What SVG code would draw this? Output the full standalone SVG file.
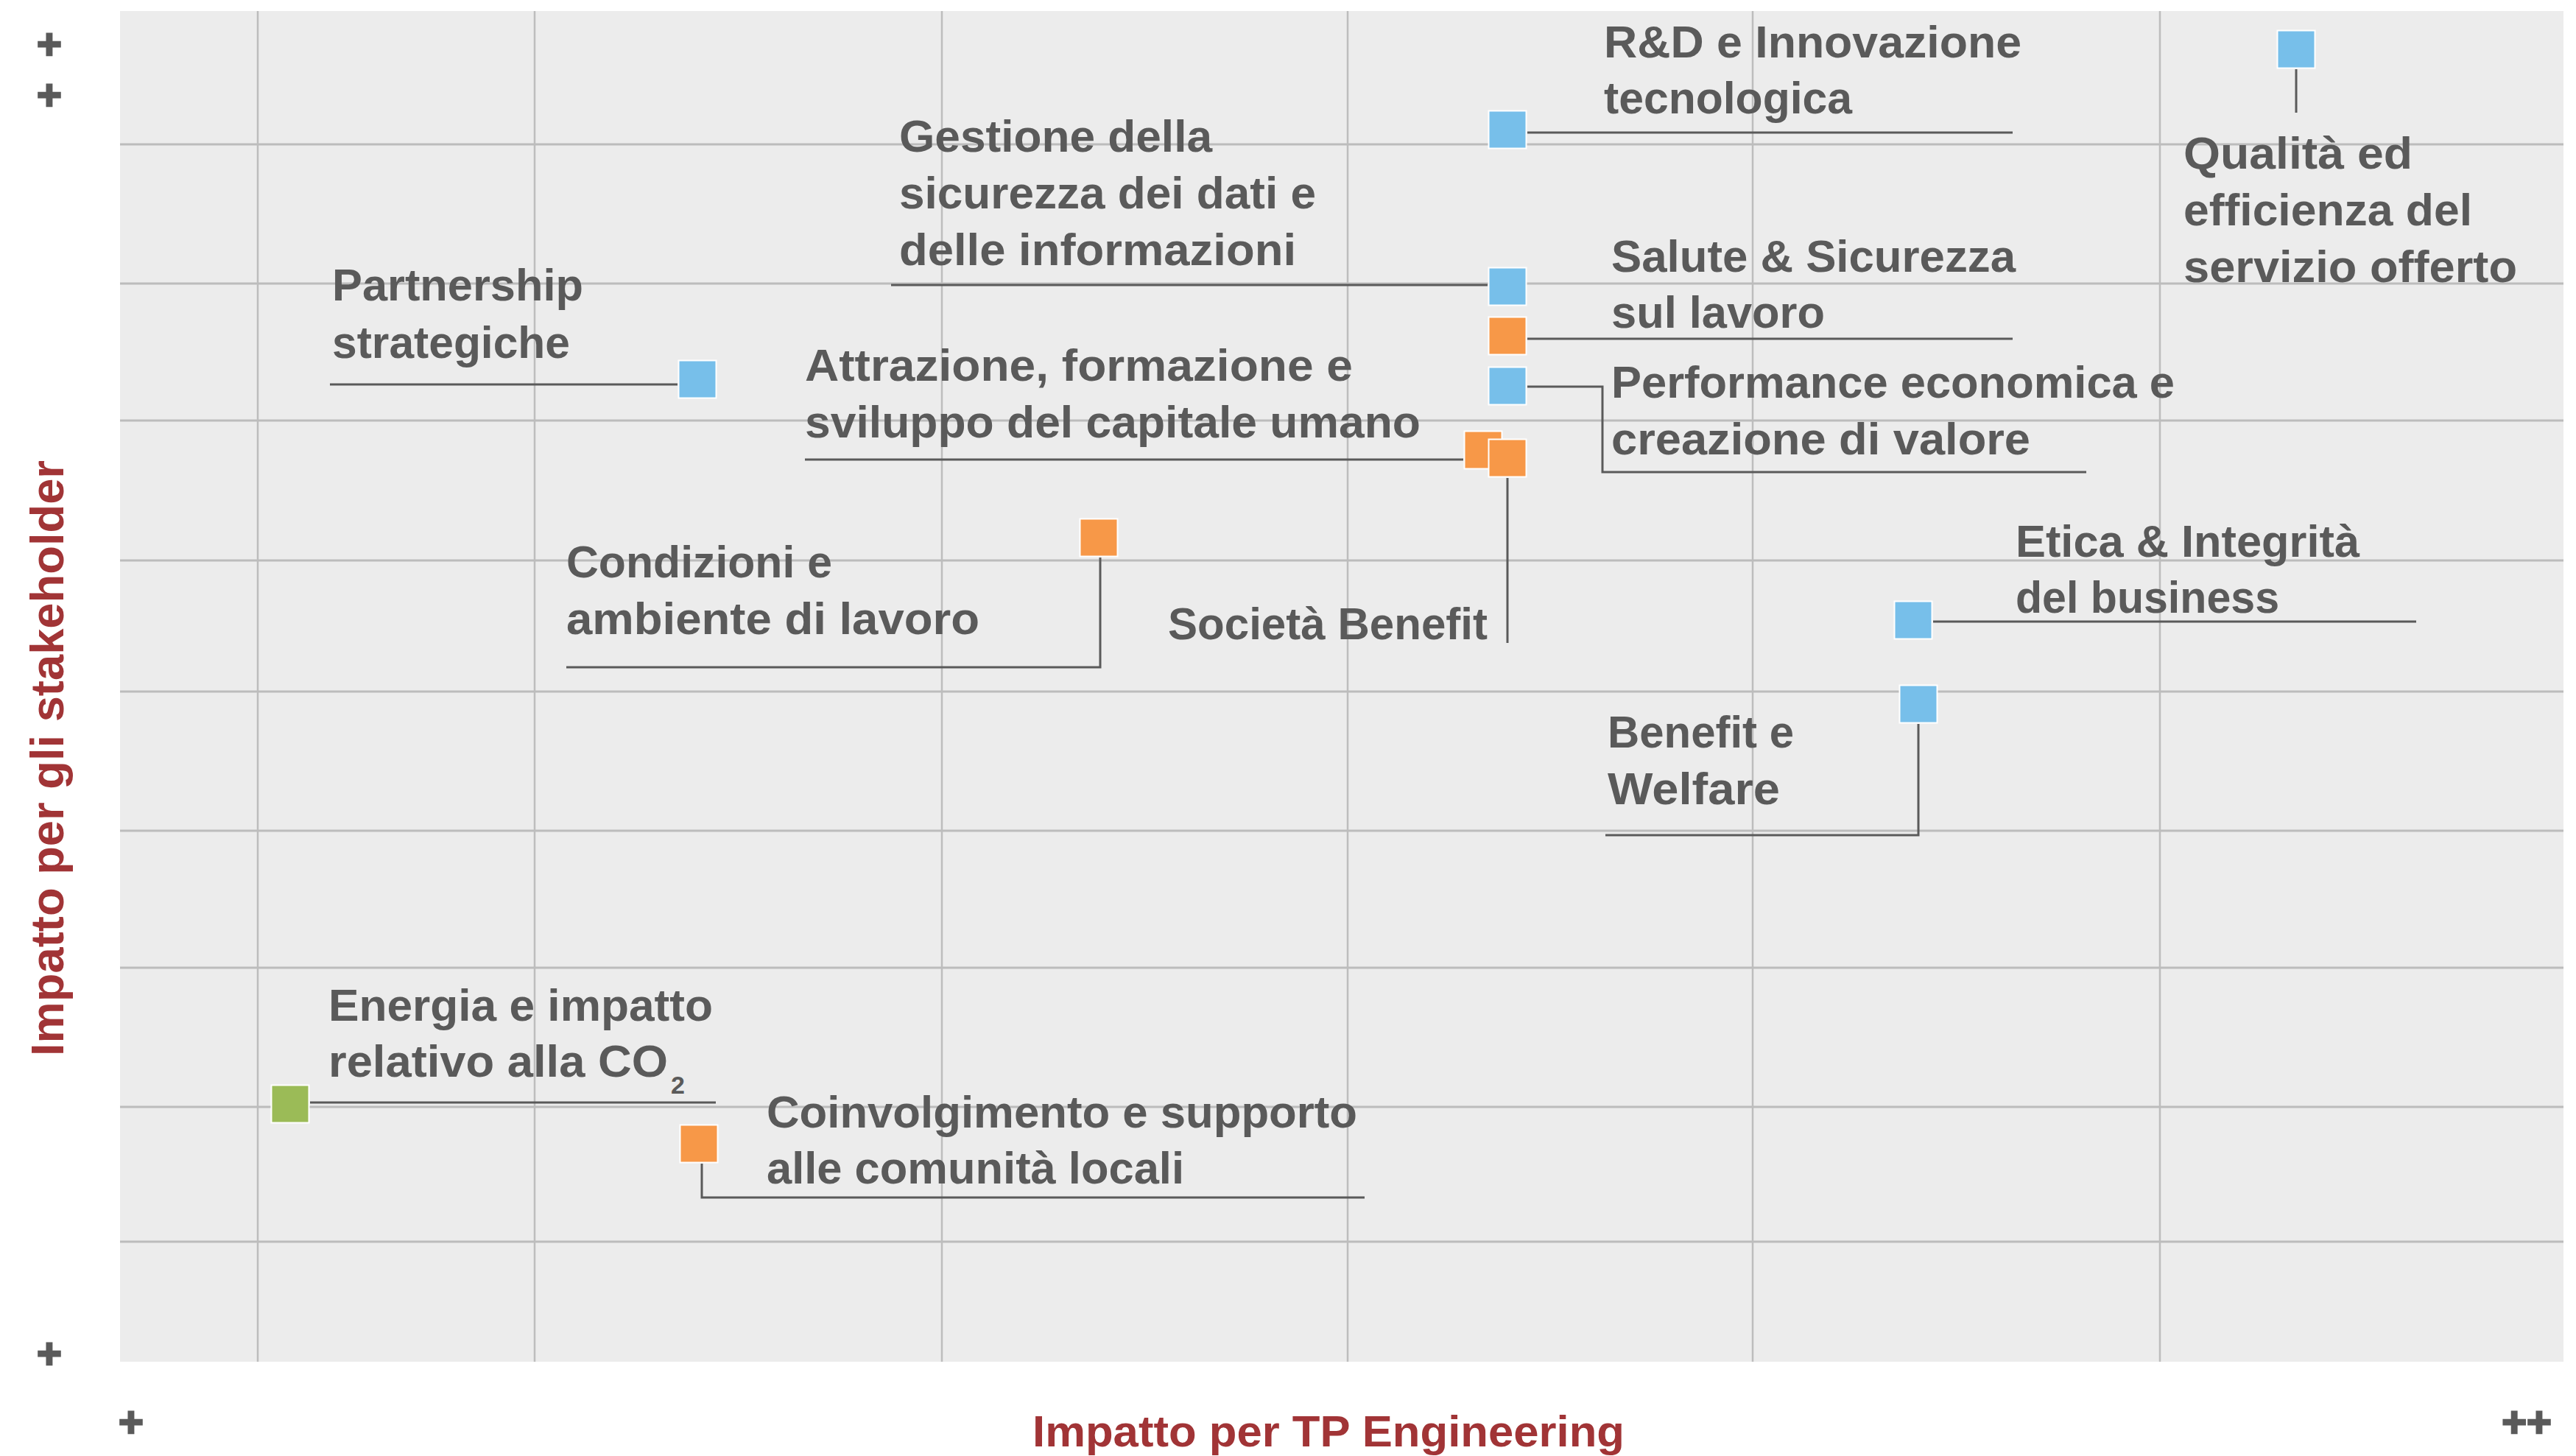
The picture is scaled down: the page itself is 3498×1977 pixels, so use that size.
<svg xmlns="http://www.w3.org/2000/svg" width="3498" height="1977" viewBox="0 0 3498 1977">
<style>
.bg{fill:#ececec}
.gh{stroke:#bcbcbc;stroke-width:3}
.gv{stroke:#bdbdbd;stroke-width:2.5}
.lbl{font-family:"Liberation Sans",Arial,sans-serif;font-weight:bold;font-size:62px;fill:#5a5a5a}
.sub{font-family:"Liberation Sans",Arial,sans-serif;font-weight:bold;font-size:34px;fill:#5a5a5a}
.plus{font-family:"Liberation Sans",Arial,sans-serif;font-weight:bold;font-size:58px;fill:#5a5a5a;stroke:#5a5a5a;stroke-width:2.5;text-anchor:middle}
.axis{font-family:"Liberation Sans",Arial,sans-serif;font-weight:bold;fill:#a13436}
.ld{fill:none;stroke:#5a5a5a;stroke-width:3}
.blue{fill:#77bfea;stroke:#ffffff;stroke-width:2}
.orange{fill:#f79848;stroke:#ffffff;stroke-width:2}
.green{fill:#9bbb57;stroke:#ffffff;stroke-width:2}
</style>
<rect width="3498" height="1977" fill="#ffffff"/>
<g id="grid">
<rect class="bg" x="163" y="15" width="3318" height="1834"/>
<line class="gh" x1="163" y1="196" x2="3481" y2="196"/>
<line class="gh" x1="163" y1="385" x2="3481" y2="385"/>
<line class="gh" x1="163" y1="571" x2="3481" y2="571"/>
<line class="gh" x1="163" y1="761" x2="3481" y2="761"/>
<line class="gh" x1="163" y1="939" x2="3481" y2="939"/>
<line class="gh" x1="163" y1="1128" x2="3481" y2="1128"/>
<line class="gh" x1="163" y1="1314" x2="3481" y2="1314"/>
<line class="gh" x1="163" y1="1503" x2="3481" y2="1503"/>
<line class="gh" x1="163" y1="1686" x2="3481" y2="1686"/>
<line class="gv" x1="350" y1="15" x2="350" y2="1849"/>
<line class="gv" x1="726" y1="15" x2="726" y2="1849"/>
<line class="gv" x1="1279" y1="15" x2="1279" y2="1849"/>
<line class="gv" x1="1830" y1="15" x2="1830" y2="1849"/>
<line class="gv" x1="2380" y1="15" x2="2380" y2="1849"/>
<line class="gv" x1="2933" y1="15" x2="2933" y2="1849"/>
</g>
<g id="axes">
<text class="plus" x="67" y="80">+</text>
<text class="plus" x="67" y="149">+</text>
<text class="plus" x="67" y="1858">+</text>
<text class="plus" x="178" y="1951">+</text>
<text class="plus" x="3431" y="1951">++</text>
<text class="axis" x="86" y="1434" font-size="63" textLength="809" lengthAdjust="spacingAndGlyphs" transform="rotate(-90 86 1434)">Impatto per gli stakeholder</text>
<text class="axis" x="1402" y="1964" font-size="60" textLength="804" lengthAdjust="spacingAndGlyphs">Impatto per TP Engineering</text>
</g>
<g id="connectors">
<path class="ld" d="M448 522 H920"/>
<path class="ld" d="M2074 180 H2733"/>
<path class="ld" d="M1210 387 H2020"/>
<path class="ld" d="M2074 460 H2733"/>
<path class="ld" d="M2074 525 H2176 V641 H2833"/>
<path class="ld" d="M1093 624 H1987"/>
<path class="ld" d="M2047 649 V873"/>
<path class="ld" d="M1494 757 V906 H769"/>
<path class="ld" d="M3118 94 V153"/>
<path class="ld" d="M2625 844 H3281"/>
<path class="ld" d="M2605 983 V1134 H2180"/>
<path class="ld" d="M421 1497 H972"/>
<path class="ld" d="M953 1580 V1626 H1853"/>
</g>
<g id="node-partnership">
<rect class="blue" x="921.5" y="489.5" width="51" height="51"/>
<text class="lbl" x="451" y="408" textLength="341" lengthAdjust="spacingAndGlyphs">Partnership</text>
<text class="lbl" x="451" y="486" textLength="323" lengthAdjust="spacingAndGlyphs">strategiche</text>
</g>
<g id="node-rd">
<rect class="blue" x="2021.5" y="150.5" width="51" height="51"/>
<text class="lbl" x="2178" y="78" textLength="567" lengthAdjust="spacingAndGlyphs">R&amp;D e Innovazione</text>
<text class="lbl" x="2178" y="154" textLength="337" lengthAdjust="spacingAndGlyphs">tecnologica</text>
</g>
<g id="node-gestione">
<rect class="blue" x="2021.5" y="363.5" width="51" height="51"/>
<text class="lbl" x="1221" y="206" textLength="425" lengthAdjust="spacingAndGlyphs">Gestione della</text>
<text class="lbl" x="1221" y="283" textLength="566" lengthAdjust="spacingAndGlyphs">sicurezza dei dati e</text>
<text class="lbl" x="1221" y="360" textLength="539" lengthAdjust="spacingAndGlyphs">delle informazioni</text>
</g>
<g id="node-salute">
<rect class="orange" x="2021.5" y="430.5" width="51" height="51"/>
<text class="lbl" x="2188" y="369" textLength="549" lengthAdjust="spacingAndGlyphs">Salute &amp; Sicurezza</text>
<text class="lbl" x="2188" y="445" textLength="290" lengthAdjust="spacingAndGlyphs">sul lavoro</text>
</g>
<g id="node-performance">
<rect class="blue" x="2021.5" y="498.5" width="51" height="51"/>
<text class="lbl" x="2188" y="540" textLength="765" lengthAdjust="spacingAndGlyphs">Performance economica e</text>
<text class="lbl" x="2188" y="617" textLength="569" lengthAdjust="spacingAndGlyphs">creazione di valore</text>
</g>
<g id="node-attrazione">
<rect class="orange" x="1988.5" y="585.5" width="51" height="51"/>
<text class="lbl" x="1093" y="517" textLength="744" lengthAdjust="spacingAndGlyphs">Attrazione, formazione e</text>
<text class="lbl" x="1093" y="594" textLength="836" lengthAdjust="spacingAndGlyphs">sviluppo del capitale umano</text>
</g>
<g id="node-societa">
<rect class="orange" x="2021.5" y="596.5" width="51" height="51"/>
<text class="lbl" x="1586" y="868" textLength="434" lengthAdjust="spacingAndGlyphs">Società Benefit</text>
</g>
<g id="node-condizioni">
<rect class="orange" x="1466.5" y="704.5" width="51" height="51"/>
<text class="lbl" x="769" y="784" textLength="361" lengthAdjust="spacingAndGlyphs">Condizioni e</text>
<text class="lbl" x="769" y="861" textLength="561" lengthAdjust="spacingAndGlyphs">ambiente di lavoro</text>
</g>
<g id="node-qualita">
<rect class="blue" x="3092.5" y="41.5" width="51" height="51"/>
<text class="lbl" x="2965" y="229" textLength="311" lengthAdjust="spacingAndGlyphs">Qualità ed</text>
<text class="lbl" x="2965" y="306" textLength="392" lengthAdjust="spacingAndGlyphs">efficienza del</text>
<text class="lbl" x="2965" y="383" textLength="453" lengthAdjust="spacingAndGlyphs">servizio offerto</text>
</g>
<g id="node-etica">
<rect class="blue" x="2572.5" y="816.5" width="51" height="51"/>
<text class="lbl" x="2737" y="756" textLength="467" lengthAdjust="spacingAndGlyphs">Etica &amp; Integrità</text>
<text class="lbl" x="2737" y="832" textLength="358" lengthAdjust="spacingAndGlyphs">del business</text>
</g>
<g id="node-welfare">
<rect class="blue" x="2579.5" y="930.5" width="51" height="51"/>
<text class="lbl" x="2183" y="1015" textLength="253" lengthAdjust="spacingAndGlyphs">Benefit e</text>
<text class="lbl" x="2183" y="1092" textLength="234" lengthAdjust="spacingAndGlyphs">Welfare</text>
</g>
<g id="node-energia">
<rect class="green" x="368.5" y="1473.5" width="51" height="51"/>
<text class="lbl" x="446" y="1386" textLength="522" lengthAdjust="spacingAndGlyphs">Energia e impatto</text>
<text class="lbl" x="446" y="1462" textLength="461" lengthAdjust="spacingAndGlyphs">relativo alla CO</text>
<text class="sub" x="911" y="1485">2</text>
</g>
<g id="node-coinvolgimento">
<rect class="orange" x="923.5" y="1527.5" width="51" height="51"/>
<text class="lbl" x="1041" y="1531" textLength="802" lengthAdjust="spacingAndGlyphs">Coinvolgimento e supporto</text>
<text class="lbl" x="1041" y="1607" textLength="567" lengthAdjust="spacingAndGlyphs">alle comunità locali</text>
</g>
</svg>
